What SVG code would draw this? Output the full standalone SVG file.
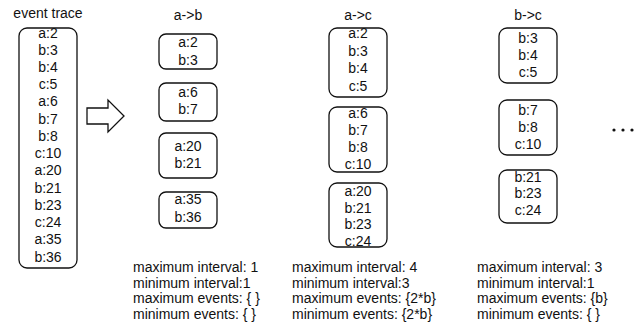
<svg xmlns="http://www.w3.org/2000/svg" width="638" height="324" viewBox="0 0 638 324">
<style>
text{font-family:"Liberation Sans",Arial,sans-serif;font-size:14px;fill:#111}
.c{text-anchor:middle}
.b{fill:#fff;stroke:#111;stroke-width:1.3}
</style>
<rect width="638" height="324" fill="#fff"/>
<g id="trace">
<text class="c" x="48" y="18">event trace</text>
<rect class="b" x="19" y="28" width="58" height="240" rx="8"/>
<text class="c" x="48" y="37.5">a:2</text>
<text class="c" x="48" y="54.7">b:3</text>
<text class="c" x="48" y="71.9">b:4</text>
<text class="c" x="48" y="89.2">c:5</text>
<text class="c" x="48" y="106.4">a:6</text>
<text class="c" x="48" y="123.6">b:7</text>
<text class="c" x="48" y="140.9">b:8</text>
<text class="c" x="48" y="158.1">c:10</text>
<text class="c" x="48" y="175.3">a:20</text>
<text class="c" x="48" y="192.6">b:21</text>
<text class="c" x="48" y="209.8">b:23</text>
<text class="c" x="48" y="227">c:24</text>
<text class="c" x="48" y="244.2">a:35</text>
<text class="c" x="48" y="261.5">b:36</text>
</g>
<g id="connectors">
<path class="b" d="M87,108 H108 V100 L124,116 L108,132 V124 H87 Z"/>
</g>
<g id="ab">
<text class="c" x="188" y="20">a-&gt;b</text>
<rect class="b" x="159" y="34" width="58" height="35" rx="7"/>
<text class="c" x="188" y="46.5">a:2</text>
<text class="c" x="188" y="64.5">b:3</text>
<rect class="b" x="159" y="83" width="58" height="38" rx="7"/>
<text class="c" x="188" y="96.5">a:6</text>
<text class="c" x="188" y="114">b:7</text>
<rect class="b" x="159" y="133" width="58" height="45" rx="7"/>
<text class="c" x="188" y="150.5">a:20</text>
<text class="c" x="188" y="168">b:21</text>
<rect class="b" x="159" y="192" width="58" height="36" rx="7"/>
<text class="c" x="188" y="204">a:35</text>
<text class="c" x="188" y="221.5">b:36</text>
</g>
<g id="ac">
<text class="c" x="358" y="20">a-&gt;c</text>
<rect class="b" x="329" y="28" width="58" height="69" rx="8"/>
<text class="c" x="358" y="37.5">a:2</text>
<text class="c" x="358" y="56">b:3</text>
<text class="c" x="358" y="73">b:4</text>
<text class="c" x="358" y="90.5">c:5</text>
<rect class="b" x="329" y="107" width="58" height="65" rx="8"/>
<text class="c" x="358" y="117.5">a:6</text>
<text class="c" x="358" y="134.5">b:7</text>
<text class="c" x="358" y="151.5">b:8</text>
<text class="c" x="358" y="169">c:10</text>
<rect class="b" x="329" y="183" width="58" height="64" rx="8"/>
<text class="c" x="358" y="196">a:20</text>
<text class="c" x="358" y="212.5">b:21</text>
<text class="c" x="358" y="229">b:23</text>
<text class="c" x="358" y="245.5">c:24</text>
</g>
<g id="bc">
<text class="c" x="528" y="20">b-&gt;c</text>
<rect class="b" x="499" y="28" width="58" height="55" rx="8"/>
<text class="c" x="528" y="42.5">b:3</text>
<text class="c" x="528" y="59.5">b:4</text>
<text class="c" x="528" y="76.5">c:5</text>
<rect class="b" x="499" y="100" width="58" height="55" rx="8"/>
<text class="c" x="528" y="114.5">b:7</text>
<text class="c" x="528" y="132">b:8</text>
<text class="c" x="528" y="148.5">c:10</text>
<rect class="b" x="499" y="170" width="58" height="53" rx="8"/>
<text class="c" x="528" y="181.5">b:21</text>
<text class="c" x="528" y="197.5">b:23</text>
<text class="c" x="528" y="214.5">c:24</text>
</g>
<g id="dots" fill="#111">
<circle cx="614" cy="130" r="1.6"/>
<circle cx="623" cy="130" r="1.6"/>
<circle cx="632" cy="130" r="1.6"/>
</g>
<g id="stats">
<text x="133" y="272">maximum interval: 1</text>
<text x="133" y="288">minimum interval:1</text>
<text x="133" y="303">maximum events: { }</text>
<text x="133" y="319">minimum events: { }</text>
<text x="292" y="272">maximum interval: 4</text>
<text x="292" y="288">minimum interval:3</text>
<text x="292" y="303">maximum events: {2*b}</text>
<text x="292" y="319">minimum events: {2*b}</text>
<text x="477" y="272">maximum interval: 3</text>
<text x="477" y="288">minimum interval:1</text>
<text x="477" y="303">maximum events: {b}</text>
<text x="477" y="319">minimum events: { }</text>
</g>
</svg>
